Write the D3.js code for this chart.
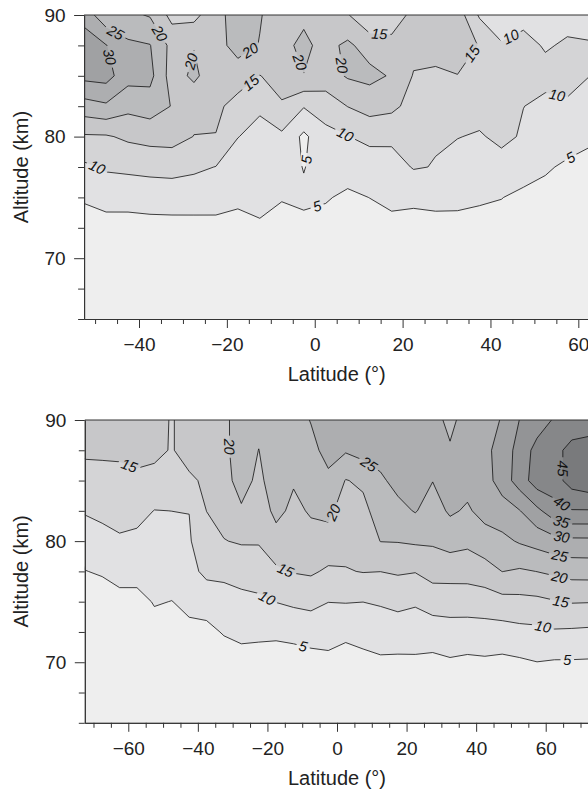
<!DOCTYPE html>
<html>
<head>
<meta charset="utf-8">
<script src="https://cdn.jsdelivr.net/npm/d3@7"></script>
<style>
body { margin: 0; background: #fff; }
svg { display: block; font-family: "Liberation Sans", Arial, sans-serif; }
</style>
</head>
<body>
<svg id="chart" width="588" height="791"></svg>
<script>
// contour levels and grey fills (first entry is the fill below 5)
var levels = [5, 10, 15, 20, 25, 30, 35, 40, 45];
var baseFill = "#eeeeee";
var fills = ["#e1e1e3", "#d4d4d6", "#c7c7c9", "#babbbd", "#adaeb0", "#a0a1a3", "#939496", "#868789", "#797a7c"];

// altitude rows of both grids (km)
var altRows = [65, 67.5, 70, 72.5, 75, 77.5, 80, 82.5, 85, 87.5, 90];

// upper panel: latitude columns and values, one row per altitude
var topLat = [-52.5, -47.5, -42.5, -37.5, -32.5, -27.5, -22.5, -17.5, -12.5, -7.5, -2.5, 2.5,
  7.5, 12.5, 17.5, 22.5, 27.5, 32.5, 37.5, 42.5, 47.5, 52.5, 57.5, 62.5];
var topGrid = [
  [1, 1, 1, 1, 1, 1, 1, 1, 1, 1, 1, 1, 1, 1, 1, 1, 1, 1, 1, 1, 1, 1, 1, 1],
  [1.5, 1.5, 1.5, 1.5, 1.5, 1.5, 1.5, 1.5, 1.5, 1.5, 1.5, 1.5, 1.5, 1.5, 1.5, 1.5, 1.5, 1.5, 1.5, 1.5, 1.5, 1.5, 1.5, 1.5],
  [1.8, 2.2, 2.2, 2.3, 2.3, 2.3, 2.4, 2.4, 2.8, 2.2, 2.5, 2.3, 2.0, 2.0, 2.4, 1.6, 2.3, 2.4, 2.3, 2.2, 1.8, 1.8, 1.4, 1.4],
  [2.2, 2.95, 2.96, 3.28, 3.37, 3.45, 3.67, 3.68, 4.5, 3.2, 3.9, 3.5, 3.0, 3.0, 3.8, 2.25, 3.56, 3.82, 3.56, 3.5, 2.5, 2.6, 1.8, 1.8],
  [5.7, 6.9, 6.9, 7.15, 7.25, 7.15, 6.84, 5.8, 6.1, 5.3, 5.8, 5.37, 4.2, 5.05, 6.0, 6.55, 6.2, 5.92, 5.54, 5.1, 4.1, 3.7, 2.5, 2.3],
  [9.13, 10.6, 11.0, 11.4, 11.65, 10.9, 9.9, 7.93, 7.4, 7.4, 4.8, 7.2, 6.97, 5.7, 8.2, 10.3, 9.84, 8.0, 7.5, 8.03, 6.8, 5.5, 4.34, 3.62],
  [14.4, 14.5, 15.9, 16.7, 16.9, 14.9, 14.85, 10.1, 8.7, 9.0, 4.0, 8.5, 9.8, 12.1, 10.9, 11.8, 10.3, 10.16, 9.5, 11.2, 9.44, 7.35, 6.84, 5.77],
  [22.9, 24.2, 21.4, 22.4, 19.8, 16.5, 16.0, 13.3, 10.6, 14.6, 10.3, 12.3, 15.1, 16.5, 16.2, 13.2, 12.0, 12.6, 12.0, 12.5, 10.05, 9.2, 9.35, 7.9],
  [31.4, 31.9, 26.8, 26.5, 17.7, 21.0, 17.0, 17.3, 14.9, 16.5, 19.9, 17.75, 20.5, 21.5, 19.5, 14.7, 14.2, 14.95, 14.2, 13.0, 12.0, 11.0, 11.5, 10.05],
  [33.0, 30.2, 26.0, 25.2, 18.5, 19.8, 18.0, 22.0, 19.8, 18.8, 21.0, 18.5, 21.0, 17.7, 16.7, 16.5, 16.8, 16.0, 14.9, 10.3, 11.0, 9.7, 10.4, 10.2],
  [28.0, 21.5, 21.0, 19.6, 13.5, 13.5, 18.5, 22.0, 20.3, 17.6, 19.1, 17.0, 15.3, 11.0, 12.0, 16.5, 17.0, 17.6, 9.4, 8.0, 9.0, 9.0, 9.0, 9.0]
];
// contour labels: [level, latitude, altitude]
var topLabels = [
  [30, -47.4, 86.5], [25, -45.4, 88.5], [20, -36.6, 88.2], [20, -28.3, 86.2], [20, -14.7, 87.1],
  [20, -5.1, 85.9], [20, 6.7, 85.9], [15, 14.7, 88.5], [15, -15.0, 84.65], [15, 35.7, 86.85],
  [10, 44.4, 88.4], [10, 55.1, 83.3], [10, 7.1, 80.3], [10, -49.2, 77.7], [5, -2.0, 78.1],
  [5, 0.6, 74.2], [5, 58.1, 78.35]
];

// lower panel
var bottomLat = [-72.5, -67.5, -62.5, -57.5, -52.5, -47.5, -42.5, -37.5, -32.5, -27.5, -22.5, -17.5,
  -12.5, -7.5, -2.5, 2.5, 7.5, 12.5, 17.5, 22.5, 27.5, 32.5, 37.5, 42.5, 47.5, 52.5, 57.5, 62.5, 67.5, 72.5];
var bottomGrid = [
  [0.5, 0.5, 0.5, 0.5, 0.5, 0.5, 0.5, 0.5, 0.5, 0.5, 0.5, 0.5, 0.5, 0.5, 0.5, 0.5, 0.5, 0.5, 0.5, 0.5, 0.5, 0.5, 0.5, 0.5, 0.5, 0.5, 0.5, 0.5, 0.5, 0.5],
  [1, 1, 1, 1, 1, 1, 1, 1, 2, 2, 2, 2, 2, 2, 2, 2, 2, 2, 2, 2, 2, 2, 2, 2, 2, 2, 2, 2, 2, 2],
  [1.2, 1.4, 1.6, 1.7, 2.5, 2.3, 3.0, 2.7, 2.6, 3.37, 2.94, 2.2, 2.5, 3.2, 3.8, 2.5, 3.6, 4.26, 4.07, 4.2, 3.77, 4.43, 4.0, 4.25, 3.9, 4.34, 4.95, 4.6, 4.6, 4.5],
  [1.5, 1.8, 2.2, 2.3, 3.68, 3.24, 4.27, 3.85, 5.35, 6.05, 6.04, 6.15, 6.6, 7.08, 6.9, 6.34, 6.8, 7.29, 7.54, 7.29, 7.6, 8.06, 7.9, 8.07, 8.0, 8.6, 8.85, 9.5, 9.3, 9.06],
  [2.1, 2.6, 3.67, 3.82, 5.25, 4.94, 5.77, 6.9, 8.1, 8.7, 9.14, 10.1, 10.8, 11.28, 10.07, 10.2, 10.04, 10.5, 11.24, 10.6, 12.0, 12.1, 12.2, 12.43, 13.36, 13.64, 13.9, 14.7, 15.3, 15.2],
  [4.87, 5.5, 6.54, 6.37, 6.82, 6.64, 8.5, 11.2, 11.1, 11.86, 12.3, 14.3, 15.26, 15.66, 14.3, 14.7, 15.2, 15.04, 15.55, 15.2, 16.9, 16.95, 16.94, 17.9, 20.06, 19.4, 20.06, 20.9, 21.8, 21.9],
  [7.62, 8.43, 9.41, 8.92, 8.39, 8.3, 9.6, 12.85, 14.85, 15.44, 15.4, 17.7, 17.0, 18.0, 18.0, 16.67, 16.9, 20.1, 20.2, 20.65, 20.66, 21.86, 21.1, 22.9, 23.8, 25.5, 26.8, 28.3, 28.85, 28.9],
  [10.37, 11.09, 11.65, 11.45, 9.9, 10.02, 10.05, 15.05, 16.5, 19.1, 16.8, 21.5, 18.7, 20.6, 21.2, 17.6, 18.75, 22.15, 23.6, 25.3, 22.9, 25.7, 24.4, 26.6, 27.8, 29.8, 33.85, 37.9, 39.7, 39.7],
  [13.1, 13.4, 13.7, 13.98, 13.15, 12.5, 14.0, 16.0, 17.5, 22.8, 18.35, 23.85, 20.5, 22.3, 24.0, 19.8, 20.8, 24.2, 26.5, 27.0, 25.1, 26.5, 26.5, 28.0, 32.25, 37.4, 42.5, 43.0, 47.1, 48.5],
  [15.8, 15.8, 15.8, 16.5, 16.4, 14.6, 17.3, 17.5, 18.0, 24.2, 19.9, 24.3, 22.0, 23.7, 26.5, 25.5, 27.0, 27.0, 28.0, 28.0, 27.0, 25.3, 27.5, 28.5, 32.4, 36.7, 41.8, 43.5, 46.6, 48.0],
  [17.0, 17.0, 17.0, 17.5, 17.0, 14.6, 17.3, 18.0, 18.5, 23.2, 22.0, 24.0, 23.0, 25.2, 27.0, 27.0, 27.5, 27.5, 28.0, 28.0, 26.0, 24.3, 26.2, 28.0, 30.35, 35.1, 37.3, 40.55, 41.9, 41.5]
];
var bottomLabels = [
  [15, -59.9, 86.1], [20, -30.9, 87.8], [25, 9.3, 86.4], [20, -1.3, 82.4], [15, -15.2, 77.35],
  [10, -20.1, 75.3], [5, -9.8, 71.25], [45, 64.6, 86.0], [40, 64.6, 83.1], [35, 64.6, 81.75],
  [30, 64.6, 80.4], [25, 64.1, 78.9], [20, 64.1, 77.2], [15, 64.3, 74.9], [10, 59.2, 72.95],
  [5, 66.2, 70.25]
];

var topMajor = [-40, -20, 0, 20, 40, 60];
var topMinor = [-50, -45, -35, -30, -25, -15, -10, -5, 5, 10, 15, 25, 30, 35, 45, 50, 55];
var bottomMajor = [-60, -40, -20, 0, 20, 40, 60];
var bottomMinor = [-70, -65, -55, -50, -45, -35, -30, -25, -15, -10, -5, 5, 10, 15, 25, 30, 35, 45, 50, 55, 65, 70];
var altMajor = [70, 80, 90];
var altMinor = [65, 67.5, 72.5, 75, 77.5, 82.5, 85, 87.5];

var svg = d3.select("#chart");

function drawPanel(id, lats, grid, labels, latDomain, xRange, yRange, major, minor) {
  var x = d3.scaleLinear().domain(latDomain).range(xRange);
  var y = d3.scaleLinear().domain([65, 90]).range(yRange);
  var nx = lats.length, ny = altRows.length;
  var latStep = lats[1] - lats[0];
  var altStep = altRows[1] - altRows[0];

  // grid coords -> pixels (d3.contours puts sample i at i + 0.5)
  function toPx(gx, gy) {
    return [x(lats[0] + (gx - 0.5) * latStep), y(altRows[0] + (gy - 0.5) * altStep)];
  }
  var path = d3.geoPath(d3.geoTransform({
    point: function (gx, gy) {
      var q = toPx(gx, gy);
      this.stream.point(q[0], q[1]);
    }
  }));

  var bands = d3.contours().size([nx, ny]).thresholds(levels)(d3.merge(grid));

  var g = svg.append("g");
  g.append("clipPath").attr("id", id + "-clip")
    .append("rect")
    .attr("x", xRange[0]).attr("y", yRange[1])
    .attr("width", xRange[1] - xRange[0]).attr("height", yRange[0] - yRange[1]);

  var plot = g.append("g").attr("clip-path", "url(#" + id + "-clip)");
  plot.append("rect")
    .attr("x", xRange[0]).attr("y", yRange[1])
    .attr("width", xRange[1] - xRange[0]).attr("height", yRange[0] - yRange[1])
    .attr("fill", baseFill);

  plot.selectAll(".band")
    .data(bands)
    .enter()
    .append("path")
    .attr("class", "band")
    .attr("d", path)
    .attr("fill", function (d, i) { return fills[i]; });

  // find where each label sits on its contour and the line direction there
  function inside(p) {
    return p[0] >= xRange[0] - 0.5 && p[0] <= xRange[1] + 0.5 && p[1] >= yRange[1] - 0.5 && p[1] <= yRange[0] + 0.5;
  }
  function snap(level, lat, alt) {
    var band = bands[levels.indexOf(level)];
    var tx = x(lat), ty = y(alt);
    var best = null;
    band.coordinates.forEach(function (poly) {
      poly.forEach(function (ring) {
        var pts = ring.map(function (c) { return toPx(c[0], c[1]); });
        for (var i = 0; i < pts.length - 1; i++) {
          var a = pts[i], b = pts[i + 1];
          if (!inside(a) || !inside(b)) continue;
          var dx = b[0] - a[0], dy = b[1] - a[1];
          var len2 = dx * dx + dy * dy;
          if (len2 === 0) continue;
          var t = ((tx - a[0]) * dx + (ty - a[1]) * dy) / len2;
          t = Math.max(0, Math.min(1, t));
          var px = a[0] + t * dx, py = a[1] + t * dy;
          var d = (px - tx) * (px - tx) + (py - ty) * (py - ty);
          if (!best || d < best.d) best = { d: d, x: px, y: py, pts: pts, i: i };
        }
      });
    });
    if (!best) return { x: tx, y: ty, angle: 0 };
    // walk along the line a few pixels each way for a steady direction
    var n = best.pts.length - 1;
    function walk(step) {
      var cur = [best.x, best.y], k = step > 0 ? best.i + 1 : best.i, left = 9, count = 0;
      while (left > 0 && count < n) {
        var p = best.pts[((k % n) + n) % n];
        if (!inside(p)) break;
        var dd = Math.hypot(p[0] - cur[0], p[1] - cur[1]);
        if (dd >= left) {
          var f = left / dd;
          return [cur[0] + (p[0] - cur[0]) * f, cur[1] + (p[1] - cur[1]) * f];
        }
        left -= dd;
        cur = p;
        k += step;
        count++;
      }
      return cur;
    }
    var a = walk(-1), b = walk(1);
    var angle = Math.atan2(b[1] - a[1], b[0] - a[0]) * 180 / Math.PI;
    while (angle > 90) angle -= 180;
    while (angle < -90) angle += 180;
    return { x: best.x, y: best.y, angle: angle };
  }

  var placed = labels.map(function (l) {
    var s = snap(l[0], l[1], l[2]);
    return { text: String(l[0]), x: s.x, y: s.y, angle: s.angle };
  });

  // gaps in the lines behind the labels
  var mask = g.append("mask").attr("id", id + "-mask")
    .attr("maskUnits", "userSpaceOnUse")
    .attr("x", 0).attr("y", 0).attr("width", 588).attr("height", 791);
  mask.append("rect").attr("x", 0).attr("y", 0).attr("width", 588).attr("height", 791).attr("fill", "white");
  mask.selectAll(".gap")
    .data(placed)
    .enter()
    .append("rect")
    .attr("x", function (d) { return -(d.text.length * 4.3 + 2.5); })
    .attr("y", -6)
    .attr("width", function (d) { return 2 * (d.text.length * 4.3 + 2.5); })
    .attr("height", 12)
    .attr("fill", "black")
    .attr("transform", function (d) { return "translate(" + d.x + "," + d.y + ") rotate(" + d.angle + ")"; });

  plot.append("g")
    .attr("mask", "url(#" + id + "-mask)")
    .selectAll(".line")
    .data(bands)
    .enter()
    .append("path")
    .attr("class", "line")
    .attr("d", path)
    .attr("fill", "none")
    .attr("stroke", "#111")
    .attr("stroke-width", 0.8)
    .attr("stroke-linejoin", "round");

  g.selectAll(".clabel")
    .data(placed)
    .enter()
    .append("text")
    .attr("class", "clabel")
    .attr("transform", function (d) { return "translate(" + d.x + "," + d.y + ") rotate(" + d.angle + ")"; })
    .attr("text-anchor", "middle")
    .attr("dy", "0.36em")
    .style("font-size", "14.5px")
    .style("font-style", "italic")
    .style("fill", "#111")
    .text(function (d) { return d.text; });

  // top frame line
  g.append("line")
    .attr("x1", xRange[0]).attr("x2", xRange[1])
    .attr("y1", yRange[1]).attr("y2", yRange[1])
    .attr("stroke", "#333").attr("stroke-width", 1);

  // axes
  var xAxis = g.append("g").attr("transform", "translate(0," + yRange[0] + ")");
  xAxis.call(d3.axisBottom(x).tickValues(major).tickSize(9).tickSizeOuter(0));
  xAxis.append("g").call(d3.axisBottom(x).tickValues(minor).tickSize(5).tickSizeOuter(0).tickFormat(""));
  xAxis.selectAll("text").attr("y", 19).style("font-size", "19px").style("fill", "#222");

  var yAxis = g.append("g").attr("transform", "translate(" + xRange[0] + ",0)");
  yAxis.call(d3.axisLeft(y).tickValues(altMajor).tickSize(10).tickSizeOuter(0));
  yAxis.append("g").call(d3.axisLeft(y).tickValues(altMinor).tickSize(6).tickSizeOuter(0).tickFormat(""));
  yAxis.selectAll("text").attr("x", -18.5).style("font-size", "19px").style("fill", "#222");

  g.selectAll(".domain, .tick line").attr("stroke", "#333");
  g.selectAll(".tick text").attr("font-family", null);

  g.append("text")
    .attr("x", (xRange[0] + xRange[1]) / 2)
    .attr("y", yRange[0] + 62)
    .attr("text-anchor", "middle")
    .style("font-size", "20px")
    .style("fill", "#222")
    .text("Latitude (°)");

  g.append("text")
    .attr("transform", "translate(27.5," + (yRange[0] + yRange[1]) / 2 + ") rotate(-90)")
    .attr("text-anchor", "middle")
    .style("font-size", "20px")
    .style("fill", "#222")
    .text("Altitude (km)");
}

drawPanel("top", topLat, topGrid, topLabels, [-52.5, 62.5], [84.1, 589.3], [319, 15], topMajor, topMinor);
drawPanel("bottom", bottomLat, bottomGrid, bottomLabels, [-72.5, 72.5], [84.8, 589.2], [722.8, 420], bottomMajor, bottomMinor);
</script>
</body>
</html>
